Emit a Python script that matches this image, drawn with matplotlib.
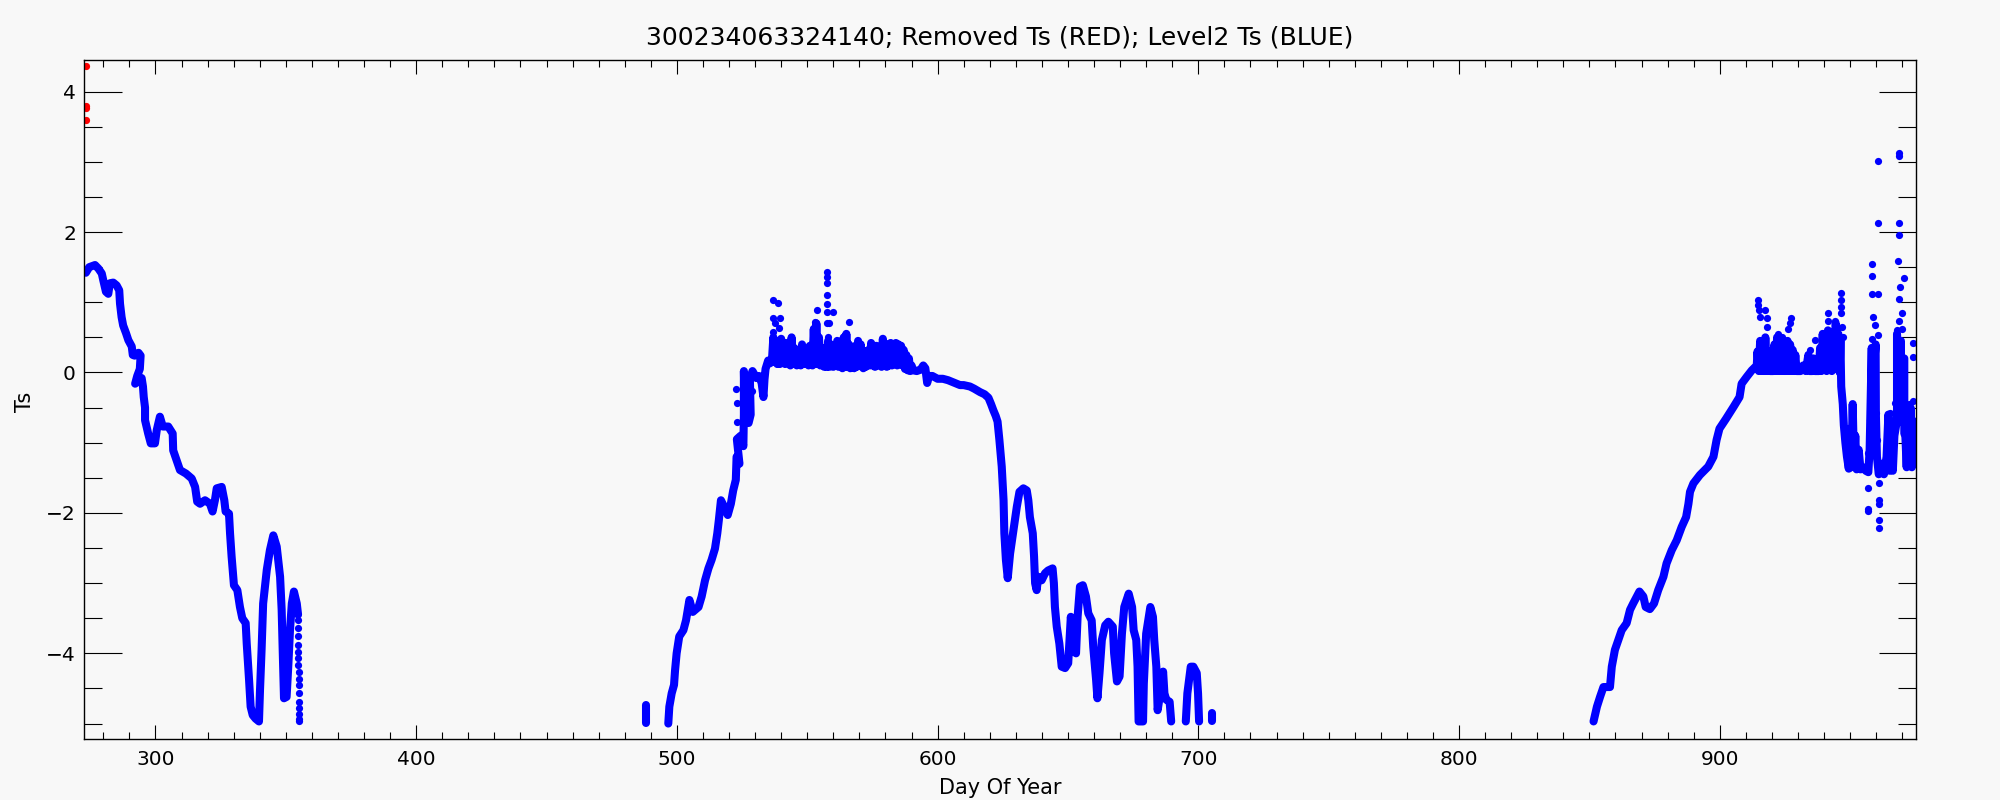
import numpy as np
import matplotlib
matplotlib.use("Agg")
import matplotlib.pyplot as plt
from matplotlib.ticker import MultipleLocator

# ---------------- data (day of year, Ts) ----------------
removed_day = [273.5, 273.5, 273.5, 273.5]
removed_ts = [4.37, 3.80, 3.76, 3.60]

seg1_day = [273.3, 274.6, 276.8, 278.1, 279.4, 280.0, 281.0, 281.9, 282.5, 283.8, 285.1, 286.1,
            286.4, 287.0, 287.6, 288.7, 289.6, 290.9, 291.3, 292.0, 293.5, 294.3, 294.0, 293.0,
            292.2, 293.5, 294.7, 295.2, 295.5, 296.0, 296.0, 297.2, 298.2, 299.8, 300.5, 301.7,
            302.8, 304.9, 306.6, 306.8, 308.1, 309.4, 311.7, 313.9, 315.2, 316.0, 317.1, 319.0,
            320.9, 321.9, 322.8, 323.5, 325.4, 326.4, 326.9, 328.2, 328.6, 329.2, 330.1, 331.4,
            332.4, 333.3, 334.6, 335.0, 335.9, 336.5, 337.3, 338.4, 339.7, 340.1, 340.7, 341.3,
            342.7, 343.9, 345.2, 346.5, 347.8, 348.4, 348.8, 349.3, 350.3, 351.0, 351.6, 352.3,
            353.1, 354.2, 354.7]
seg1_ts = [1.42, 1.50, 1.53, 1.48, 1.41, 1.31, 1.15, 1.12, 1.27, 1.28, 1.24, 1.17,
           0.98, 0.79, 0.67, 0.56, 0.46, 0.37, 0.25, 0.24, 0.28, 0.24, 0.05, -0.05,
           -0.16, -0.12, -0.08, -0.20, -0.35, -0.50, -0.68, -0.87, -1.01, -1.01, -0.82, -0.63,
           -0.77, -0.77, -0.87, -1.11, -1.25, -1.39, -1.44, -1.51, -1.63, -1.84, -1.87, -1.82,
           -1.87, -1.98, -1.82, -1.65, -1.63, -1.82, -1.98, -2.01, -2.29, -2.62, -3.03, -3.10,
           -3.34, -3.50, -3.57, -3.86, -4.38, -4.76, -4.88, -4.93, -4.97, -4.52, -3.95, -3.29,
           -2.81, -2.53, -2.32, -2.48, -2.91, -3.38, -3.95, -4.64, -4.62, -4.14, -3.67, -3.29,
           -3.12, -3.29, -3.45]

tail1_day = [354.8, 354.8, 354.8, 354.8, 354.8, 354.8, 354.8, 354.9, 354.9, 354.9, 354.9,
             354.9, 355.0, 355.0, 355.0, 355.0]
tail1_ts = [-3.53, -3.64, -3.76, -3.88, -3.98, -4.07, -4.17, -4.26, -4.36, -4.45, -4.57,
            -4.69, -4.78, -4.86, -4.93, -4.97]

seg2a_day = [488.1, 488.1]
seg2a_ts = [-4.74, -4.99]

seg2_day = [496.7, 497.1, 498.0, 498.9, 499.3, 499.9, 500.9, 502.5, 503.5, 504.8, 506.1, 508.3,
            509.5, 510.8, 512.1, 513.3, 514.6, 515.5, 516.1, 516.9, 518.1, 519.5, 520.7, 521.6,
            522.6, 522.9, 524.0, 523.0, 524.5, 525.5, 525.7, 525.7, 526.0, 527.5, 528.3, 528.0,
            529.0, 530.5, 531.5, 532.5, 533.2, 533.6, 534.0, 535.0, 535.7,
            536.5, 537.0, 537.5, 538.0, 538.5, 539.0, 539.5, 540.0, 540.5, 541.0, 541.5, 542.0,
            542.5, 543.0, 543.5, 544.0, 544.5, 545.0, 546.0, 546.5, 547.5, 548.0, 549.0, 549.5,
            550.5, 551.0, 552.0, 552.5, 553.0, 553.5, 554.0, 554.5, 555.0, 555.5, 556.5, 557.0,
            557.5, 558.0, 558.5, 559.0, 560.0, 560.5, 561.0, 561.5, 562.0, 562.5, 563.5, 564.0,
            564.5, 565.0, 565.5, 566.0, 566.5, 567.0, 568.0, 568.5, 569.0, 569.5, 570.0, 570.5,
            571.5, 572.0, 572.5, 573.5, 574.0, 574.5, 575.0, 575.5, 576.0, 576.5, 577.0, 577.5,
            578.5, 579.0, 579.5, 580.0, 580.5, 581.0, 581.5, 582.0, 582.5, 583.0, 583.5, 584.0,
            584.5, 585.0, 585.5, 586.0, 586.5, 587.0, 587.5, 588.0, 588.5, 589.0, 589.5, 590.0,
            590.7, 592.0, 593.5, 594.5, 595.3, 596.0, 596.7, 598.0, 600.0, 602.0, 604.0, 606.0,
            608.6, 610.0, 612.4, 614.0, 616.3, 618.0, 619.5, 620.5, 621.4, 622.3, 623.0, 623.7,
            624.6, 625.3, 625.6, 626.2, 626.9, 627.8, 629.1, 630.4, 631.4, 632.9, 634.2, 634.8,
            635.4, 636.5, 637.0, 637.4, 638.0, 638.6, 639.9, 641.2, 642.4, 644.1, 644.6, 645.0,
            645.7, 646.7, 647.6, 648.9, 650.1, 651.1, 651.8, 652.3, 653.1, 653.7, 654.6, 655.7,
            656.9, 657.8, 659.1, 659.7, 660.8, 661.3, 662.1, 663.0, 664.3, 665.5, 667.2, 667.7,
            668.8, 669.8, 670.7, 671.6, 673.3, 674.6, 675.2, 676.2, 676.7, 677.1, 678.8, 679.1,
            680.0, 681.6, 682.6, 683.1, 683.9, 684.4, 685.4, 686.5, 687.0, 687.7, 689.0, 689.6]
seg2_ts = [-5.00, -4.76, -4.57, -4.45, -4.24, -4.00, -3.76, -3.67, -3.53, -3.24, -3.41, -3.34,
           -3.19, -2.96, -2.79, -2.67, -2.51, -2.29, -2.10, -1.82, -1.91, -2.03, -1.87, -1.68,
           -1.53, -1.20, -1.30, -0.95, -0.90, -1.05, -0.60, 0.02, -0.55, -0.72, -0.60, -0.10,
           0.02, -0.08, -0.05, -0.15, -0.35, -0.10, 0.05, 0.17, 0.13,
           0.20, 0.50, 0.15, 0.45, 0.12, 0.40, 0.12, 0.48, 0.14, 0.36, 0.12, 0.42,
           0.14, 0.38, 0.10, 0.50, 0.12, 0.35, 0.10, 0.32, 0.10, 0.40, 0.12, 0.32,
           0.10, 0.38, 0.10, 0.62, 0.12, 0.70, 0.12, 0.50, 0.10, 0.35, 0.08, 0.30,
           0.08, 0.45, 0.08, 0.40, 0.08, 0.35, 0.10, 0.45, 0.08, 0.38, 0.06, 0.50,
           0.08, 0.55, 0.08, 0.40, 0.06, 0.30, 0.06, 0.38, 0.08, 0.45, 0.10, 0.40,
           0.06, 0.30, 0.08, 0.32, 0.10, 0.42, 0.10, 0.30, 0.08, 0.38, 0.10, 0.35,
           0.08, 0.48, 0.10, 0.35, 0.08, 0.40, 0.10, 0.42, 0.10, 0.38, 0.12, 0.42,
           0.10, 0.40, 0.12, 0.38, 0.10, 0.32, 0.05, 0.25, 0.03, 0.20, 0.02, 0.10,
           0.03, 0.02, 0.04, 0.10, 0.06, -0.15, -0.05, -0.05, -0.09, -0.09, -0.11, -0.14,
           -0.18, -0.18, -0.20, -0.23, -0.28, -0.31, -0.36, -0.45, -0.54, -0.62, -0.70, -0.96,
           -1.34, -1.82, -2.29, -2.67, -2.93, -2.58, -2.25, -1.91, -1.70, -1.65, -1.68, -1.82,
           -2.06, -2.29, -2.62, -3.00, -3.10, -2.91, -2.96, -2.86, -2.82, -2.79, -3.00, -3.34,
           -3.62, -3.86, -4.19, -4.21, -4.14, -3.48, -3.72, -3.95, -4.00, -3.48, -3.05, -3.03,
           -3.19, -3.43, -3.53, -3.91, -4.38, -4.64, -4.28, -3.81, -3.60, -3.55, -3.62, -4.00,
           -4.40, -4.33, -3.72, -3.34, -3.15, -3.34, -3.67, -3.81, -4.19, -4.97, -4.97, -4.43,
           -3.72, -3.34, -3.48, -3.81, -4.19, -4.81, -4.57, -4.26, -4.57, -4.66, -4.69, -4.97]

seg2b_day = [695.2, 695.8, 697.1, 698.1, 699.4, 699.9, 700.3]
seg2b_ts = [-4.97, -4.57, -4.19, -4.19, -4.28, -4.57, -4.97]

seg2c_day = [705.2, 705.2]
seg2c_ts = [-4.85, -4.97]

spikes2_day = [536.7, 538.9, 537.0, 539.5, 539.3, 536.7, 537.8, 553.6, 553.0, 557.4, 557.5,
               557.5, 557.5, 557.5, 557.5, 559.7, 557.5, 558.5, 565.9, 557.8, 522.7, 523.0,
               523.0, 528.7]
spikes2_ts = [1.03, 0.99, 0.77, 0.77, 0.63, 0.58, 0.70, 0.89, 0.72, 1.43, 1.36, 1.28, 1.10,
              0.97, 0.86, 0.86, 0.70, 0.70, 0.72, 0.51, -0.23, -0.43, -0.70, -0.26]

seg3_day = [851.6, 852.9, 854.1, 855.4, 857.9, 858.6, 859.8, 861.1, 862.4, 864.3, 865.6, 866.8,
            869.2, 870.7, 871.6, 873.2, 874.8, 876.4, 878.4, 879.6, 881.6, 883.5, 885.4, 887.1,
            888.0, 888.6, 889.9, 892.4, 895.6, 897.6, 898.8, 899.9, 902.4, 905.3, 907.6, 908.4,
            910.4, 912.3, 914.2,
            914.5, 915.0, 915.5, 916.0, 916.5, 917.0, 917.5, 918.0, 918.5, 919.3, 920.5, 921.0,
            921.5, 922.0, 922.5, 923.0, 923.5, 924.0, 924.5, 925.0, 925.5, 926.0, 926.5, 927.0,
            927.5, 928.0, 928.5, 929.0, 929.5, 931.0, 932.0, 933.0, 934.0, 934.5, 935.5, 936.0,
            936.5, 938.0, 938.5, 939.0, 939.5, 940.0, 940.5, 941.0, 941.5, 942.0, 942.5, 943.0,
            943.5, 944.0, 944.5, 945.0, 945.5, 946.0, 946.3, 946.6, 947.2, 947.6, 948.2, 948.8,
            949.5, 950.0, 950.5, 951.0, 951.5, 952.0, 952.5, 953.3, 954.0, 955.0, 956.0, 957.0,
            957.5, 958.3, 958.4, 958.6, 959.2, 959.8, 959.9, 960.3, 961.0, 962.0, 963.0, 964.0,
            964.7, 965.2, 965.8, 966.4, 967.0, 968.0, 968.0, 968.8, 969.5, 969.5, 970.2, 970.8,
            970.8, 971.2, 971.7, 972.2, 972.7, 973.2, 973.7, 974.2, 974.7, 975.2, 975.5]
seg3_ts = [-4.97, -4.76, -4.62, -4.48, -4.48, -4.19, -3.95, -3.81, -3.67, -3.57, -3.38, -3.29,
           -3.12, -3.19, -3.34, -3.37, -3.29, -3.10, -2.91, -2.72, -2.53, -2.39, -2.20, -2.06,
           -1.87, -1.70, -1.58, -1.46, -1.34, -1.20, -0.96, -0.80, -0.66, -0.49, -0.35, -0.16,
           -0.06, 0.03, 0.10,
           0.30, 0.02, 0.45, 0.02, 0.35, 0.02, 0.50, 0.02, 0.30, 0.02, 0.02, 0.40,
           0.02, 0.50, 0.02, 0.35, 0.02, 0.42, 0.02, 0.30, 0.02, 0.45, 0.02, 0.40,
           0.02, 0.32, 0.02, 0.25, 0.02, 0.02, 0.10, 0.02, 0.25, 0.02, 0.02, 0.20,
           0.02, 0.02, 0.35, 0.02, 0.55, 0.05, 0.40, 0.02, 0.60, 0.05, 0.45, 0.02,
           0.50, 0.05, 0.70, 0.05, 0.55, 0.00, 0.45, -0.20, -0.45, -0.75, -1.00, -1.20,
           -1.37, -0.80, -1.35, -0.45, -1.30, -0.90, -1.38, -1.10, -1.38, -1.35, -1.40, -1.42,
           -1.10, 0.35, -0.68, -0.30, 0.10, 0.40, -0.60, -1.20, -1.45, -1.30, -1.45, -1.20,
           -0.60, -1.40, -0.70, -1.40, -0.90, -0.68, 0.55, -0.20, 0.45, -0.70, 0.20, 0.20,
           -0.87, -0.90, -1.35, -0.60, -1.30, -0.50, -1.35, -0.80, -1.30, -0.70, -1.20]

spikes3_day = [914.8, 914.8, 915.2, 915.3, 917.4, 918.0, 918.0, 922.5, 923.8, 927.2, 926.8,
               926.3, 934.6, 936.6, 941.7, 941.7, 944.2, 944.2, 944.8, 946.4, 946.4, 946.4,
               946.4, 946.8, 947.4,
               958.5, 958.5, 958.5, 960.6, 958.9, 959.6, 960.6, 958.5, 957.7, 960.0, 960.6,
               960.6, 968.8, 968.8, 968.8, 968.8, 968.4, 970.7, 969.2, 968.8, 969.8, 968.8,
               967.9, 969.8, 967.2, 974.3, 974.3, 974.1, 957.0, 957.0, 957.0, 961.1, 961.1,
               961.1, 961.1, 961.1, 961.1, 958.3, 960.2, 957.0, 965.3, 972.5]
spikes3_ts = [1.03, 0.96, 0.89, 0.79, 0.89, 0.77, 0.65, 0.55, 0.50, 0.77, 0.70,
              0.62, 0.32, 0.46, 0.84, 0.74, 0.74, 0.67, 0.60, 1.13, 1.03, 0.93,
              0.84, 0.65, 0.51,
              1.54, 1.38, 1.12, 1.12, 0.79, 0.67, 0.53, 0.48, -0.68, -0.58, 3.01,
              2.13, 3.12, 3.08, 2.13, 1.96, 1.59, 1.35, 1.22, 1.05, 0.84, 0.74,
              0.60, 0.62, -0.44, 0.42, 0.22, -0.40, -1.65, -1.94, -1.15, -1.30, -1.58,
              -1.82, -1.87, -2.10, -2.21, -0.99, -0.96, -1.97, -0.58, -0.45]

title_text = "300234063324140; Removed Ts (RED); Level2 Ts (BLUE)"
xlabel_text = "Day Of Year"
ylabel_text = "Ts"
x_range = (272.7, 975.4)
y_range = (-5.22, 4.45)

# ---------------- figure ----------------
bg = "#f8f8f8"
plt.rcParams["font.family"] = ["DejaVu Sans"]
fig = plt.figure(figsize=(20, 8), dpi=100, facecolor=bg)
ax = fig.add_axes([0.04215, 0.07625, 0.916, 0.84875], facecolor=bg)

lw = 5.8
blue = "#0000ff"
line_kw = dict(color=blue, lw=lw, solid_capstyle="round", solid_joinstyle="round")
for d, t in [(seg1_day, seg1_ts), (seg2a_day, seg2a_ts), (seg2_day, seg2_ts),
             (seg2b_day, seg2b_ts), (seg2c_day, seg2c_ts), (seg3_day, seg3_ts)]:
    ax.plot(d, t, **line_kw)

dot_kw = dict(color=blue, marker="o", ls="none", ms=5.2, mew=0)
ax.plot(tail1_day, tail1_ts, **dot_kw)
ax.plot(spikes2_day, spikes2_ts, **dot_kw)
ax.plot(spikes3_day, spikes3_ts, **dot_kw)
ax.plot(removed_day, removed_ts, color="#ff0000", marker="o", ls="none", ms=5.2, mew=0)

ax.set_xlim(*x_range)
ax.set_ylim(*y_range)

ax.xaxis.set_major_locator(MultipleLocator(100))
ax.xaxis.set_minor_locator(MultipleLocator(10))
ax.yaxis.set_major_locator(MultipleLocator(2))
ax.yaxis.set_minor_locator(MultipleLocator(0.5))

ax.tick_params(axis="x", which="major", direction="in", length=10, width=0.8,
               top=True, bottom=True, labelsize=14.5, pad=8)
ax.tick_params(axis="x", which="minor", direction="in", length=5, width=0.8,
               top=True, bottom=True)
ax.tick_params(axis="y", which="major", direction="in", length=27, width=0.8,
               left=True, right=True, labelsize=14.5, pad=6)
ax.tick_params(axis="y", which="minor", direction="in", length=13.3, width=0.8,
               left=True, right=True)
for s in ax.spines.values():
    s.set_linewidth(1.0)

fig.text(0.5, 1 - 38 / 800, title_text, ha="center", va="center", fontsize=18)
fig.text(0.5, 1 - 788 / 800, xlabel_text, ha="center", va="center", fontsize=15)
fig.text(25 / 2000, 1 - 402 / 800, ylabel_text, ha="center", va="center",
         rotation=90, fontsize=15)

fig.savefig("out.png", dpi=100, facecolor=bg)
